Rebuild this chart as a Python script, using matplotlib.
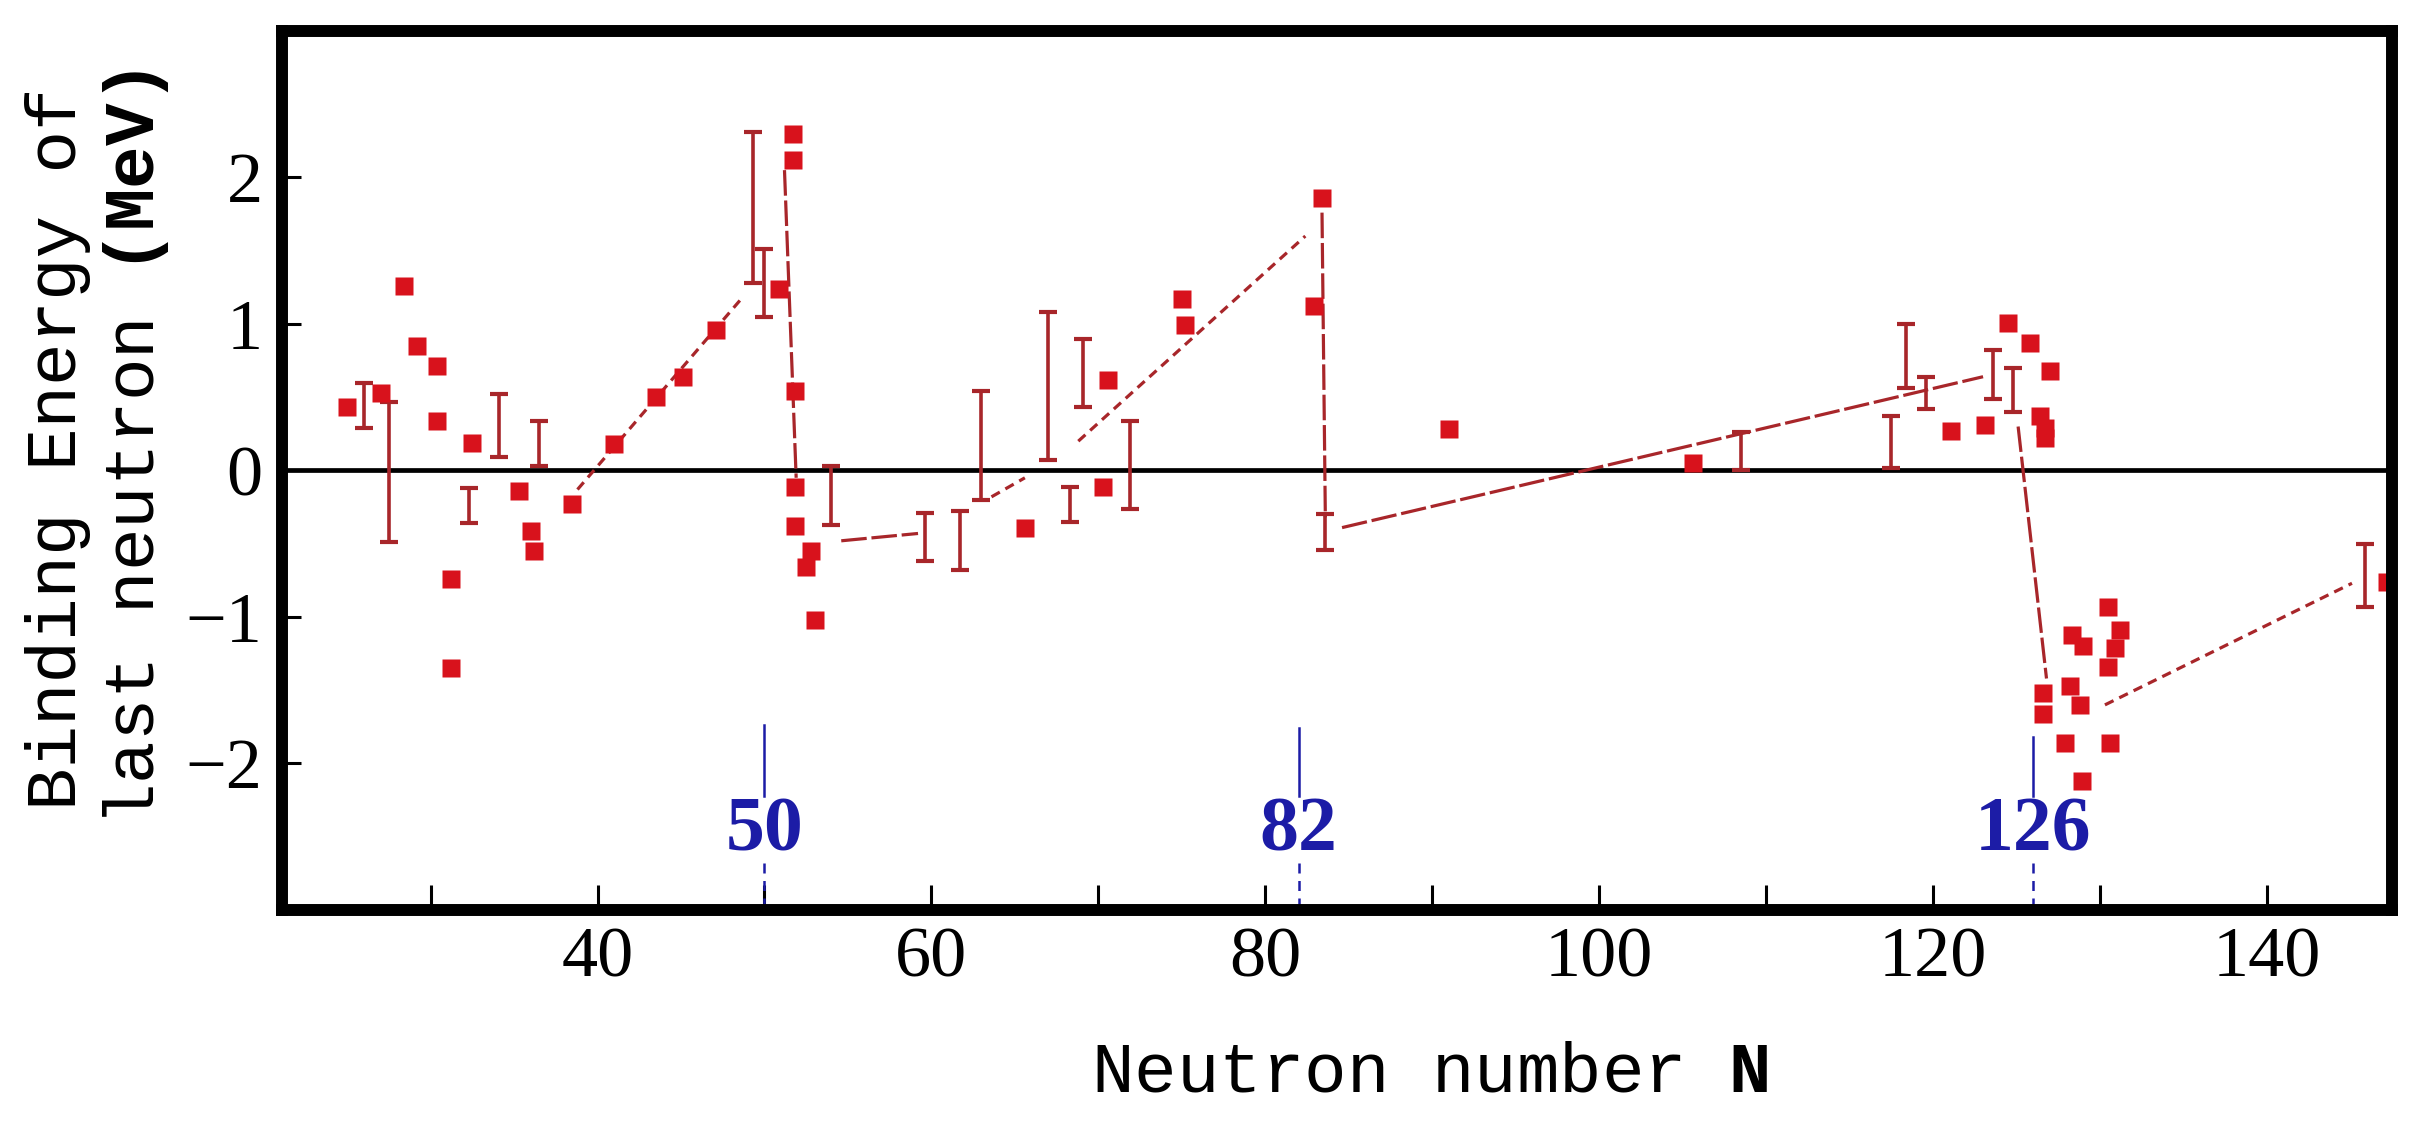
import numpy as np
import matplotlib
matplotlib.use('Agg')
from matplotlib import pyplot as plt

plt.rcParams['font.family'] = ['Liberation Serif', 'DejaVu Serif']
plt.rcParams['mathtext.fontset'] = 'custom'
plt.rcParams['mathtext.rm'] = 'Liberation Mono'
plt.rcParams['mathtext.bf'] = 'Liberation Mono:bold'

# measured points: neutron number N, binding energy of last neutron (MeV)
pts_N = [25.0, 27.0, 28.4, 29.2, 30.4, 30.4, 31.2, 31.2, 32.5, 35.3, 36.0, 36.2,
         38.5, 41.0, 43.5, 45.1, 47.1, 50.9, 51.7, 51.7, 51.8, 51.8, 51.8, 52.8,
         52.5, 53.0, 65.6, 70.3, 70.6, 75.0, 75.2, 82.9, 83.4, 91.0, 105.6,
         121.1, 123.1, 124.5, 125.8, 127.0, 126.4, 126.7, 126.7,
         126.6, 126.6, 128.2, 128.8, 127.9, 128.9, 130.6, 130.5, 128.3, 129.0,
         131.2, 130.9, 130.5, 147.2]
pts_E = [0.43, 0.53, 1.26, 0.85, 0.71, 0.34, -0.74, -1.35, 0.19, -0.14, -0.41, -0.55,
         -0.23, 0.18, 0.50, 0.64, 0.96, 1.24, 2.30, 2.12, 0.54, -0.11, -0.38, -0.55,
         -0.66, -1.02, -0.39, -0.11, 0.62, 1.17, 0.99, 1.12, 1.86, 0.28, 0.05,
         0.27, 0.31, 1.01, 0.87, 0.68, 0.37, 0.29, 0.22,
         -1.52, -1.66, -1.47, -1.60, -1.86, -2.12, -1.86, -0.93, -1.12, -1.20,
         -1.09, -1.21, -1.34, -0.76]

# error bars: N, lower end, upper end
err_N = [26.0, 27.5, 32.3, 34.1, 36.5, 49.3, 50.0, 54.0, 59.6, 61.7, 63.0, 67.0,
         68.3, 69.1, 71.9, 83.6, 108.5, 117.5, 118.4, 119.6, 123.6, 124.8, 145.9]
err_lo = [0.29, -0.49, -0.36, 0.09, 0.03, 1.28, 1.05, -0.37, -0.62, -0.68, -0.20, 0.07,
          -0.35, 0.43, -0.26, -0.54, 0.00, 0.02, 0.56, 0.42, 0.49, 0.40, -0.93]
err_hi = [0.60, 0.47, -0.12, 0.52, 0.34, 2.31, 1.51, 0.03, -0.29, -0.28, 0.54, 1.08,
          -0.11, 0.90, 0.34, -0.30, 0.26, 0.37, 1.00, 0.64, 0.82, 0.70, -0.50]

# guide lines drawn through the data (start N, end N) / (start E, end E)
seg_N = [(38.8, 48.6), (51.2, 51.9), (54.6, 59.2), (63.6, 65.6), (68.8, 82.4),
         (83.4, 83.6), (84.6, 123.0), (125.1, 126.8), (130.3, 145.1)]
seg_E = [(-0.13, 1.17), (2.05, -0.05), (-0.48, -0.43), (-0.18, -0.05), (0.20, 1.60),
         (1.76, -0.32), (-0.39, 0.64), (0.30, -1.42), (-1.60, -0.77)]
seg_fine = [True, False, False, True, True, False, False, False, True]

# magic numbers
magic = [50, 82, 126]
magic_top = [-1.74, -1.76, -1.82]

red_pt = '#d8121c'
red_ln = '#a8262a'
blue = '#1c1ca6'

fig = plt.figure(figsize=(24.27, 11.3), dpi=100)
ax = fig.add_axes([0.1162, 0.1947, 0.8694, 0.7779])

ax.axhline(0, color='black', lw=3.4, zorder=1)

for sn, se, fine in zip(seg_N, seg_E, seg_fine):
    ax.plot(sn, se, color=red_ln, lw=2.3, dashes=(3, 2) if fine else (8, 1.5), zorder=2.1)

lo = np.array(err_lo)
hi = np.array(err_hi)
mid = (lo + hi) / 2
ax.errorbar(err_N, mid, yerr=[mid - lo, hi - mid], fmt='none', ecolor=red_ln,
            elinewidth=2.6, capsize=6.5, capthick=3.0, zorder=2.2)

ax.plot(pts_N, pts_E, 's', color=red_pt, ms=12.5, mec='none', zorder=2.3)

for m, t in zip(magic, magic_top):
    ax.plot([m, m], [t, -2.22], color=blue, lw=1.8, zorder=2)
    ax.plot([m, m], [-2.68, -3.0], color=blue, lw=1.8, dashes=(4, 3), zorder=2)
    ax.text(m, -2.47, str(m), color=blue, fontsize=56, fontweight='bold',
            ha='center', va='center', zorder=5)

ax.set_xlim(21.1, 147.5)
ax.set_ylim(-3, 3)
ax.set_xticks([40, 60, 80, 100, 120, 140])
ax.set_xticks([30, 50, 70, 90, 110, 130], minor=True)
ax.set_yticks([-2, -1, 0, 1, 2])
ax.tick_params(which='both', direction='in', length=18, width=2.2,
               top=False, right=False, labelsize=52, color='black')
ax.tick_params(axis='x', pad=12)
ax.tick_params(axis='y', pad=14, length=14)

for s in ax.spines.values():
    s.set_linewidth(8.6)

fig.text(98 / 2427, 0.603, 'Binding Energy of\nlast neutron $\\mathbf{(MeV)}$',
         rotation=90, ha='center', va='center', fontsize=51, family='Liberation Mono',
         linespacing=1.2)
fig.text(1430 / 2427, 0.050, 'Neutron number $\\mathbf{N}$', ha='center', va='center',
         fontsize=51, family='Liberation Mono')

fig.savefig('out.png', dpi=100)
